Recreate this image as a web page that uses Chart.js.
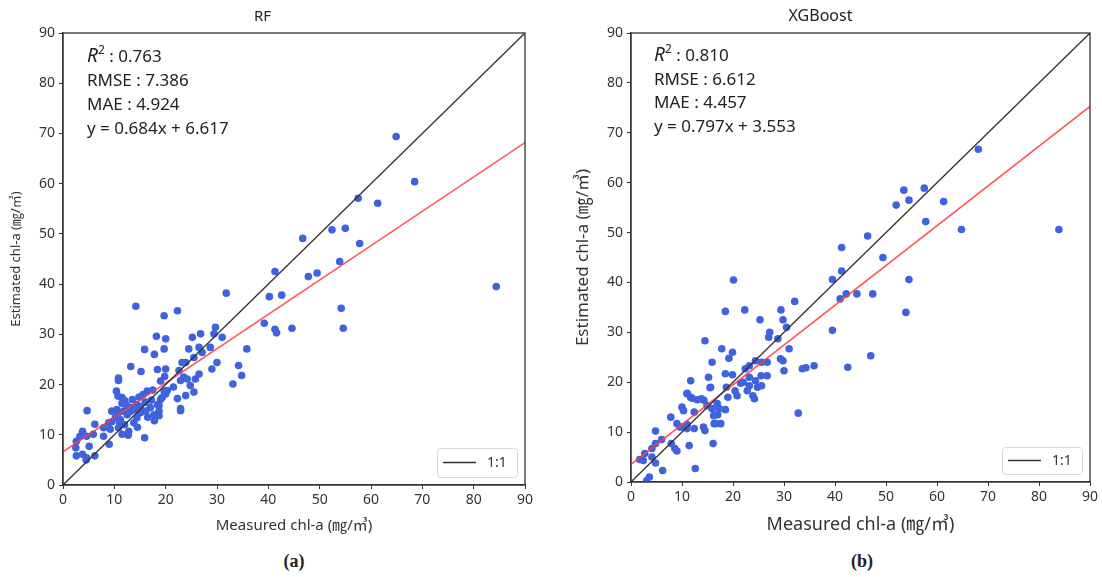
<!DOCTYPE html>
<html>
<head>
<meta charset="utf-8">
<script src="https://cdn.jsdelivr.net/npm/chart.js@4.4.1/dist/chart.umd.min.js"></script>
<style>
  body { margin: 0; background: #fff; }
  #wrap { position: relative; width: 1102px; height: 577px; background: #fff; overflow: hidden; }
  .box { position: absolute; top: 0; width: 551px; height: 545px; }
  .stats { position: absolute; top: 43px; font-family: "Noto Sans", "Noto Sans CJK KR", sans-serif; font-size: 17px; color: #222; line-height: 24px; white-space: nowrap; }
  .stats i { font-size: 19px; }
  .stats sup { font-size: 12px; line-height: 0; position: relative; top: -1px; }
  .cap { position: absolute; top: 551px; width: 80px; text-align: center; font-family: "Liberation Serif", serif; font-weight: bold; font-size: 18px; color: #222; }
</style>
</head>
<body>
<div id="wrap">
  <div class="box" style="left:0"><canvas id="rf"></canvas></div>
  <div class="box" style="left:551px"><canvas id="xgb"></canvas></div>
  <div class="stats" style="left:87px">
    <div><i>R</i><sup>2</sup> : 0.763</div>
    <div>RMSE : 7.386</div>
    <div>MAE : 4.924</div>
    <div>y = 0.684x + 6.617</div>
  </div>
  <div class="stats" style="left:654px; line-height:23.5px">
    <div><i>R</i><sup>2</sup> : 0.810</div>
    <div>RMSE : 6.612</div>
    <div>MAE : 4.457</div>
    <div>y = 0.797x + 3.553</div>
  </div>
  <div class="cap" style="left:254px">(a)</div>
  <div class="cap" style="left:822px">(b)</div>
</div>
<script>
// axis range / ticks shared by both panels
const axisMin = 0;
const axisMax = 90;
const axisStep = 10;

// RF: measured vs estimated chl-a
const rfMeasured = [
  64.9, 68.5, 57.5, 61.3, 52.4, 55.0, 46.7, 57.8, 53.9, 41.3, 47.8, 49.5, 84.4, 42.6, 40.2, 54.2, 54.6, 44.6, 41.3, 41.6, 39.2, 31.8,
  22.3, 19.7, 14.2, 29.7, 29.4, 31.0, 26.8, 25.2, 20.0, 18.2, 19.7, 24.5, 26.5, 28.7, 35.8, 27.1, 25.5, 23.9, 23.2, 30.0, 29.0, 34.2,
  34.8, 33.1, 26.5, 25.8, 23.5, 22.9, 24.2, 22.6, 20.0, 18.4, 24.8, 25.5, 23.9, 22.3, 22.9, 22.9, 20.3, 20.0, 18.7, 18.7,
  15.9, 17.8, 13.2, 15.2, 19.8,
  10.8, 10.8, 10.4, 10.7, 11.5, 4.7, 9.5, 10.8, 11.8, 10.2, 12.5, 13.4, 14.4, 15.1, 16.1, 17.0, 17.7, 18.4, 18.7, 14.4, 13.8, 15.9,
  12.8, 11.5, 10.8, 9.2, 8.9, 7.9, 7.9, 9.0, 6.2, 5.9, 3.8, 3.3, 4.6, 2.6, 2.5, 5.1, 2.6, 3.8, 4.6, 6.2, 4.5, 15.6, 16.4, 19.0,
  19.7, 19.3, 19.0, 17.5, 11.5, 12.4, 13.1, 12.7, 9.5, 10.5, 11.2, 12.0, 16.5, 17.2, 15.0, 14.0,
  13.5, 14.8, 16.0, 12.0, 17.8, 14.5, 11.0, 21.5
];
const rfEstimated = [
  69.4, 60.4, 57.1, 56.1, 50.8, 51.1, 49.1, 48.1, 44.5, 42.5, 41.5, 42.2, 39.5, 37.8, 37.5, 35.2, 31.2, 31.2, 31.0, 30.3, 32.2, 38.2,
  34.7, 33.7, 35.6, 31.4, 30.1, 29.4, 30.1, 29.4, 29.1, 29.6, 27.1, 27.1, 27.4, 27.4, 27.1, 26.4, 25.4, 24.4, 24.4, 24.4, 23.1, 23.8,
  21.8, 20.1, 22.1, 21.1, 21.5, 20.8, 21.1, 22.8, 23.1, 23.0, 19.8, 18.5, 17.8, 17.2, 15.2, 14.8, 18.8, 18.1, 15.8, 13.8,
  27.0, 26.0, 23.6, 22.6, 21.6,
  20.8, 21.3, 18.7, 17.7, 17.4, 14.8, 14.7, 14.4, 14.7, 13.4, 14.0, 15.4, 16.0, 14.4, 14.7, 15.4, 14.0, 16.0, 14.7, 13.4, 12.4, 9.4,
  10.7, 10.1, 11.4, 11.1, 12.4, 11.4, 9.7, 8.1, 12.1, 10.1, 10.7, 9.7, 9.7, 8.7, 7.4, 7.7, 5.8, 6.1, 5.4, 5.8, 5.0, 18.0, 18.7, 20.7,
  18.7, 17.4, 17.0, 18.9, 16.3, 15.9, 14.6, 9.9, 12.6, 15.0, 13.0, 12.0, 13.5, 16.9, 15.5, 15.0,
  17.0, 17.5, 16.5, 16.8, 12.8, 11.5, 12.5, 19.5
];

// XGBoost: measured vs estimated chl-a
const xgbMeasured = [
  68.1, 53.5, 57.5, 54.5, 52.0, 61.3, 57.8, 64.8, 83.9, 46.4, 41.3, 49.4, 41.3, 39.5, 54.5, 20.1, 41.0, 42.2, 44.3, 47.4, 53.9, 39.5,
  47.0, 42.5, 35.9, 34.3, 33.6, 32.8, 32.1, 29.4, 29.8, 25.3, 22.3, 18.5, 14.5, 27.2, 27.0, 28.8, 30.5, 31.0, 29.3, 29.8, 30.0,
  17.8, 19.9, 19.2, 15.9, 15.2, 18.5, 19.9, 22.4, 23.2, 24.4, 25.6, 26.7, 25.5, 26.7, 23.2, 24.4, 25.6, 23.2, 22.8, 23.9, 24.2,
  20.4, 20.8, 18.7, 19.0, 18.5, 15.6, 11.7, 11.0, 11.7, 13.8, 10.0, 10.3, 12.4, 14.9, 15.9, 16.9, 17.3, 16.2, 16.6, 17.6, 14.2,
  14.5, 10.0, 11.0, 12.4, 7.8, 9.0, 11.4, 16.1, 7.9, 8.6, 9.0, 4.8, 6.0, 4.8, 4.1, 2.7, 2.4, 4.1, 4.8, 6.2, 12.6, 3.6, 3.1, 1.7,
  12.0, 13.0, 14.3, 9.6, 11.0, 16.3, 17.0, 15.5, 11.0, 21.5, 24.8, 22.0
];
const xgbEstimated = [
  66.7, 58.5, 58.9, 56.5, 55.5, 56.2, 52.2, 50.6, 50.6, 49.3, 47.0, 45.0, 42.3, 40.6, 40.6, 40.5, 36.7, 37.7, 37.7, 37.7, 34.0, 30.4,
  25.3, 23.0, 23.3, 22.9, 22.7, 13.8, 36.2, 34.5, 32.5, 32.5, 34.5, 34.2, 28.3, 30.0, 29.0, 28.7, 31.0, 26.7, 24.7, 24.3, 22.3,
  26.7, 26.0, 24.8, 24.0, 21.0, 21.7, 21.5, 22.7, 23.3, 24.3, 24.0, 24.0, 21.3, 21.3, 21.0, 20.3, 19.3, 19.3, 18.3, 17.3, 16.7,
  18.3, 17.3, 19.0, 17.0, 14.5, 19.0, 20.3, 17.7, 17.0, 16.7, 15.0, 14.3, 14.0, 15.3, 14.7, 15.7, 14.7, 13.3, 11.7, 11.7, 11.0,
  10.3, 11.0, 10.7, 10.7, 13.0, 11.7, 7.3, 7.7, 7.7, 6.7, 6.2, 10.2, 8.5, 7.7, 6.7, 5.7, 4.3, 5.0, 3.8, 2.3, 2.7, 1.0, 0.3, 4.5,
  16.8, 16.5, 16.4, 11.0, 11.5, 11.7, 13.5, 18.9, 17.8, 19.8, 19.0, 20.0
];

// fitted regression lines (y = slope * x + intercept)
const rfFit = [0.684, 6.617];
const xgbFit = [0.797, 3.553];

const pointColor = '#3f63de';
const fontFamily = '"Noto Sans", "Noto Sans CJK KR", sans-serif';

function toPoints(xs, ys) {
  return xs.map((x, i) => ({ x: x, y: ys[i] }));
}

function fitLine(fit) {
  return [axisMin, axisMax].map(x => ({ x: x, y: fit[0] * x + fit[1] }));
}

function rrect(ctx, x, y, w, h, r) {
  ctx.beginPath();
  ctx.moveTo(x + r, y);
  ctx.lineTo(x + w - r, y);
  ctx.quadraticCurveTo(x + w, y, x + w, y + r);
  ctx.lineTo(x + w, y + h - r);
  ctx.quadraticCurveTo(x + w, y + h, x + w - r, y + h);
  ctx.lineTo(x + r, y + h);
  ctx.quadraticCurveTo(x, y + h, x, y + h - r);
  ctx.lineTo(x, y + r);
  ctx.quadraticCurveTo(x, y, x + r, y);
  ctx.closePath();
}

// frame round the plot + the small "1:1" legend in the lower right corner
const framePlugin = {
  id: 'frame',
  afterDatasetsDraw(chart, args, opts) {
    const a = chart.chartArea, ctx = chart.ctx;
    ctx.save();
    ctx.strokeStyle = '#333';
    ctx.lineWidth = 1.3;
    ctx.strokeRect(a.left, a.top, a.right - a.left, a.bottom - a.top);

    const w = opts.w, h = opts.h;
    const x = a.right - 8 - w, y = a.bottom - 8 - h;
    rrect(ctx, x + 0.5, y + 0.5, w, h, 3);
    ctx.fillStyle = 'rgba(255,255,255,0.85)';
    ctx.fill();
    ctx.strokeStyle = '#d8d8d8';
    ctx.lineWidth = 1;
    ctx.stroke();

    const ds = chart.data.datasets[0];
    ctx.strokeStyle = ds.borderColor;
    ctx.lineWidth = 1.5;
    ctx.beginPath();
    ctx.moveTo(x + 6, y + h / 2);
    ctx.lineTo(x + 39, y + h / 2);
    ctx.stroke();
    ctx.fillStyle = '#333';
    ctx.font = '14px ' + fontFamily;
    ctx.textBaseline = 'middle';
    ctx.fillText(ds.label, x + 50, y + h / 2 + 1);
    ctx.restore();
  }
};

function makeChart(id, cfg) {
  new Chart(document.getElementById(id), {
    type: 'scatter',
    data: {
      datasets: [
        {
          type: 'line', label: '1:1',
          data: [{ x: axisMin, y: axisMin }, { x: axisMax, y: axisMax }],
          borderColor: '#333', borderWidth: 1.3, pointRadius: 0, fill: false
        },
        {
          type: 'line', label: 'fit',
          data: fitLine(cfg.fit),
          borderColor: 'rgba(255,60,60,0.85)', borderWidth: 1.6, pointRadius: 0, fill: false
        },
        {
          label: 'data',
          data: toPoints(cfg.xs, cfg.ys),
          backgroundColor: pointColor, borderWidth: 0, pointRadius: 3.8
        }
      ]
    },
    options: {
      responsive: true,
      maintainAspectRatio: false,
      animation: false,
      layout: { padding: { left: 0, right: cfg.padRight, top: 0, bottom: 0 } },
      plugins: {
        legend: { display: false },
        tooltip: { enabled: false },
        title: {
          display: true, text: cfg.title, color: '#222',
          font: { family: fontFamily, size: cfg.titleSize, weight: 'normal' },
          padding: cfg.titlePad
        },
        frame: cfg.legendBox
      },
      scales: {
        x: {
          type: 'linear', min: axisMin, max: axisMax,
          afterFit(scale) { scale.height = cfg.xAxisH; },
          ticks: { stepSize: axisStep, color: '#333', padding: 3, font: { family: fontFamily, size: 14 } },
          grid: { display: true, drawOnChartArea: false, drawTicks: true, tickLength: 4, color: '#333' },
          border: { display: true, color: '#333', width: 1.3 },
          title: {
            display: true, text: 'Measured chl-a (㎎/㎥)', color: '#333',
            font: { family: fontFamily, size: cfg.xTitleSize }, padding: { top: 0, bottom: cfg.xTitlePad }
          }
        },
        y: {
          type: 'linear', min: axisMin, max: axisMax,
          afterFit(scale) { scale.width = cfg.yAxisW; },
          ticks: { stepSize: axisStep, color: '#333', padding: 4, font: { family: fontFamily, size: 14 } },
          grid: { display: true, drawOnChartArea: false, drawTicks: true, tickLength: 4, color: '#333' },
          border: { display: true, color: '#333', width: 1.3 },
          title: {
            display: true, text: 'Estimated chl-a (㎎/㎥)', color: '#333',
            font: { family: fontFamily, size: cfg.yTitleSize }, padding: { top: cfg.yTitlePad, bottom: 0 }
          }
        }
      }
    },
    plugins: [framePlugin]
  });
}

makeChart('rf', {
  xs: rfMeasured, ys: rfEstimated, fit: rfFit, title: 'RF',
  titleSize: 15, titlePad: { top: 8, bottom: 7 },
  padRight: 26, xAxisH: 60, yAxisW: 63,
  xTitleSize: 15, xTitlePad: 10, yTitleSize: 13, yTitlePad: 8,
  legendBox: { w: 80, h: 29 }
});

makeChart('xgb', {
  xs: xgbMeasured, ys: xgbEstimated, fit: xgbFit, title: 'XGBoost',
  titleSize: 16, titlePad: { top: 7, bottom: 6.8 },
  padRight: 12, xAxisH: 63, yAxisW: 80,
  xTitleSize: 18, xTitlePad: 9, yTitleSize: 17, yTitlePad: 22,
  legendBox: { w: 80, h: 27 }
});
</script>
</body>
</html>
